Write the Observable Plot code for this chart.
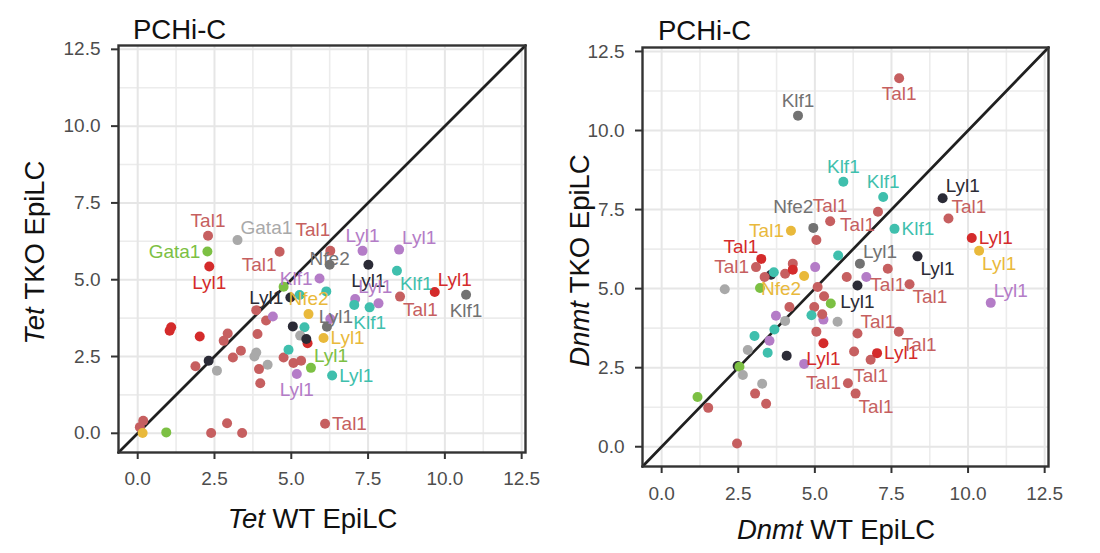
<!DOCTYPE html>
<html>
<head>
<meta charset="utf-8">
<script src="https://cdn.jsdelivr.net/npm/d3@7"></script>
<script src="https://cdn.jsdelivr.net/npm/@observablehq/plot@0.6"></script>
<style>
  body { margin: 0; background: #fff; }
  #wrap { width: 1100px; height: 553px; display: flex; }
  #wrap svg { display: block; flex: none; }
  [aria-label="x-axis tick label"] text, [aria-label="y-axis tick label"] text { fill: #4d4d4d; }
</style>
</head>
<body>
<div id="wrap"></div>
<script>
// ---------- scales / ticks ----------
const majorTicks = [0, 2.5, 5, 7.5, 10, 12.5];
const minorTicks = [1.25, 3.75, 6.25, 8.75, 11.25];
const axisDomain = [-0.625, 12.625];

// ---------- colour groups ----------
// T = Tal1 (muted red), R = red, K = black, G = dark grey, L = light grey,
// P = purple, C = teal, Y = yellow, N = green
const groupNames  = ["T", "R", "K", "G", "L", "P", "C", "Y", "N"];
const groupColors = ["#c65f60", "#d42b2b", "#2b2b36", "#727272", "#a9a9a9", "#b47cc7", "#3fbfad", "#e9b93b", "#7cc043"];

// ---------- left panel: Tet ----------
const tetWT  = [2.29,2.27,2.33,3.25,4.62,6.27,5.92,4.75,4.97,5.27,5.56,3.86,4.18,4.40,1.09,1.04,2.02,2.93,2.80,3.90,3.36,3.10,1.88,2.31,2.58,3.86,3.80,4.23,3.95,3.99,4.75,5.07,5.32,5.18,5.64,4.91,5.05,5.43,5.29,5.53,5.49,6.05,6.16,6.10,0.18,0.07,0.16,0.93,2.39,2.91,3.40,6.25,7.32,8.51,7.51,8.44,9.67,10.69,8.54,6.14,7.08,7.05,7.55,7.84,6.27,6.33];
const tetTKO = [6.43,5.92,5.43,6.29,5.91,5.94,5.04,4.77,4.42,4.50,3.88,4.01,3.67,3.80,3.45,3.34,3.15,3.25,3.01,3.23,2.69,2.47,2.18,2.36,2.04,2.63,2.50,2.23,2.09,1.63,2.47,2.29,2.36,1.93,2.13,2.72,3.48,3.45,3.18,2.93,3.07,3.10,3.47,0.31,0.41,0.20,0.01,0.03,0.01,0.33,0.01,5.49,5.94,5.98,5.49,5.29,4.60,4.51,4.45,4.62,4.37,4.18,4.10,4.23,3.72,1.88];
const tetGroup = ["T","N","R","L","T","T","P","N","K","C","Y","T","T","P","R","R","R","T","T","T","T","T","T","K","L","L","L","L","T","T","T","T","T","P","N","C","K","C","L","R","K","Y","G","T","T","T","Y","N","T","T","T","G","P","P","K","C","R","G","T","C","P","C","C","P","P","C"];
const tetLabel = ["Tal1","Gata1","Lyl1","Gata1","Tal1","Tal1","Klf1","","Lyl1","","Nfe2","","","","","","","","","","","","","","","","","","","","","","","Lyl1","Lyl1","","","","","","","Lyl1","Lyl1","Tal1","","","","","","","","Nfe2","Lyl1","Lyl1","Lyl1","Klf1","Lyl1","Klf1","Tal1","","Lyl1","","Klf1","","","Lyl1"];
const tetSide  = ["n","w","s","ne","sw","nw2","w","","w","","n","","","","","","","","","","","","","","","","","","","","","","","s","ne","","","","","","","e","nc","e","","","","","","","","c","n","ne","s","se","ne","s","se","","ne","","s","","","e"];

// ---------- right panel: Dnmt ----------
const dnmtWT  = [4.45,7.75,5.93,7.23,9.17,4.95,4.22,5.50,7.06,9.36,10.12,10.36,10.74,7.60,5.05,5.76,6.47,8.35,7.38,6.04,6.68,6.39,5.52,8.09,2.06,3.21,3.25,3.08,3.57,3.66,3.36,4.03,4.28,4.28,5.01,4.65,5.09,5.30,4.17,4.98,4.89,3.73,4.03,5.28,5.24,5.74,3.68,3.03,3.52,2.81,3.46,4.08,5.05,5.28,6.39,7.74,6.28,6.82,7.03,4.65,2.48,2.54,2.65,3.28,3.05,3.41,6.08,6.33,1.17,1.52,2.46];
const dnmtTKO = [10.47,11.65,8.38,7.90,7.86,6.92,6.83,7.13,7.43,7.22,6.60,6.20,4.55,6.89,6.54,6.05,5.79,6.02,5.63,5.37,5.37,5.10,4.53,5.14,4.98,5.02,5.94,5.68,5.44,5.52,5.37,5.47,5.79,5.60,5.68,5.40,5.05,4.76,4.42,4.42,4.16,4.14,3.98,4.02,4.19,3.95,3.71,3.50,3.35,3.06,2.97,2.88,3.64,3.27,3.58,3.64,3.01,2.75,2.96,2.62,2.55,2.53,2.27,1.99,1.68,1.36,2.01,1.68,1.57,1.23,0.10];
const dnmtGroup = ["G","T","C","C","K","G","Y","T","T","T","R","Y","P","C","T","C","G","K","T","T","P","K","N","T","L","N","R","T","K","C","T","T","T","R","P","Y","T","T","T","T","C","P","L","P","T","L","C","C","P","L","C","K","T","R","T","T","T","T","R","P","K","N","L","L","T","T","T","T","N","T","T"];
const dnmtLabel = ["Klf1","Tal1","Klf1","Klf1","Lyl1","Nfe2","Tal1","Tal1","Tal1","Tal1","Lyl1","Lyl1","Lyl1","Klf1","","","Lyl1","Lyl1","Tal1","","","Lyl1","","Tal1","","","Tal1","Tal1","","","","","","","","Nfe2","","","","","","","","","","","","","","","","","","Lyl1","Tal1","Tal1","","Tal1","Lyl1","","","","","","","","Tal1","Tal1","","",""];
const dnmtSide  = ["n","s","n","n","ne","nw2","w","n","sw","ne","e","se","ne","e","","","ne","se","s","","","s","","se","","","nw","w","","","","","","","","sw","","","","","","","","","","","","","","","","","","s","ne","se","","s","e","","","","","","","","w","se","","",""];

// ---------- label placement styles ----------
const sideStyle = {
  c:   {dx: 0,  dy: -6,  textAnchor: "middle"},
  n:   {dx: 0,  dy: -15, textAnchor: "middle"},
  nc:  {dx: 9,  dy: -10, textAnchor: "middle"},
  s:   {dx: 0,  dy: 16,  textAnchor: "middle"},
  e:   {dx: 7,  dy: 0,   textAnchor: "start"},
  w:   {dx: -7, dy: 0,   textAnchor: "end"},
  ne:  {dx: 3,  dy: -12, textAnchor: "start"},
  nw:  {dx: -3, dy: -12, textAnchor: "end"},
  nw2: {dx: 0,  dy: -21, textAnchor: "end"},
  se:  {dx: 3,  dy: 13,  textAnchor: "start"},
  sw:  {dx: -3, dy: 13,  textAnchor: "end"}
};

const FONT = "'Liberation Sans', Arial, Helvetica, sans-serif";

function makePanel(cfg) {
  const data = cfg.xs.map((x, i) => ({x, y: cfg.ys[i], g: cfg.groups[i], label: cfg.labels[i], side: cfg.sides[i]}));
  const labelMarks = Object.entries(sideStyle).map(([side, s]) =>
    Plot.text(data.filter(d => d.label && d.side === side), {
      x: "x", y: "y", text: "label", fill: "g", fontSize: 19, ...s
    })
  );
  const svg = Plot.plot({
    width: cfg.width, height: cfg.height,
    marginLeft: cfg.m[0], marginRight: cfg.m[1], marginTop: cfg.m[2], marginBottom: cfg.m[3],
    style: {fontFamily: FONT, fontSize: "19px", background: "#fff", overflow: "visible"},
    x: {domain: axisDomain},
    y: {domain: axisDomain},
    color: {type: "ordinal", domain: groupNames, range: groupColors},
    marks: [
      Plot.ruleX(minorTicks, {stroke: "#ececec", strokeWidth: 1.6}),
      Plot.ruleY(minorTicks, {stroke: "#ececec", strokeWidth: 1.6}),
      Plot.ruleX(majorTicks, {stroke: "#e6e6e6", strokeWidth: 2}),
      Plot.ruleY(majorTicks, {stroke: "#e6e6e6", strokeWidth: 2}),
      Plot.line(axisDomain.map(v => ({a: v})), {x: "a", y: "a", stroke: "#202020", strokeWidth: 2.7}),
      Plot.dot(data, {x: "x", y: "y", fill: "g", r: 5}),
      ...labelMarks,
      Plot.frame({stroke: "#333", strokeWidth: 2.4}),
      Plot.axisX({ticks: majorTicks, tickFormat: d3.format(".1f"), tickSize: 7, tickPadding: cfg.xPad, fontSize: 19, label: null, stroke: "#333", strokeWidth: 2}),
      Plot.axisY({ticks: majorTicks, tickFormat: d3.format(".1f"), tickSize: 7, tickPadding: cfg.yPad, fontSize: 19, label: null, stroke: "#333", strokeWidth: 2})
    ]
  });
  const s = d3.select(svg);
  const panelCx = (cfg.m[0] + cfg.width - cfg.m[1]) / 2;
  const panelCy = (cfg.m[2] + cfg.height - cfg.m[3]) / 2;
  s.append("text")
    .attr("x", cfg.titleX).attr("y", cfg.titleY)
    .attr("text-anchor", "start")
    .attr("font-size", 27.5).attr("fill", "#111").attr("font-family", FONT)
    .text("PCHi-C");
  const xt = s.append("text")
    .attr("x", panelCx + cfg.xTitleShift).attr("y", cfg.height - cfg.m[3] + cfg.xTitleOffset)
    .attr("text-anchor", "middle").attr("font-size", 27.5).attr("fill", "#111").attr("font-family", FONT);
  xt.append("tspan").attr("font-style", "italic").text(cfg.gene);
  xt.append("tspan").text("\u00a0WT EpiLC");
  const yt = s.append("text")
    .attr("transform", `translate(${cfg.yTitleX},${panelCy + 4}) rotate(-90)`)
    .attr("text-anchor", "middle").attr("font-size", 27.5).attr("fill", "#111").attr("font-family", FONT);
  yt.append("tspan").attr("font-style", "italic").text(cfg.gene);
  yt.append("tspan").text("\u00a0TKO EpiLC");
  return svg;
}

const wrap = document.getElementById("wrap");
wrap.appendChild(makePanel({
  xs: tetWT, ys: tetTKO, groups: tetGroup, labels: tetLabel, sides: tetSide,
  gene: "Tet", width: 550, height: 553, m: [118, 25, 45, 101],
  xPad: 12, yPad: 11, titleX: 133, titleY: 39, yTitleX: 44, xTitleOffset: 76, xTitleShift: -9
}));
wrap.appendChild(makePanel({
  xs: dnmtWT, ys: dnmtTKO, groups: dnmtGroup, labels: dnmtLabel, sides: dnmtSide,
  gene: "Dnmt", width: 550, height: 553, m: [92, 52, 47, 87],
  xPad: 13, yPad: 11, titleX: 108, titleY: 40, yTitleX: 39, xTitleOffset: 73, xTitleShift: -9
}));
</script>
</body>
</html>
